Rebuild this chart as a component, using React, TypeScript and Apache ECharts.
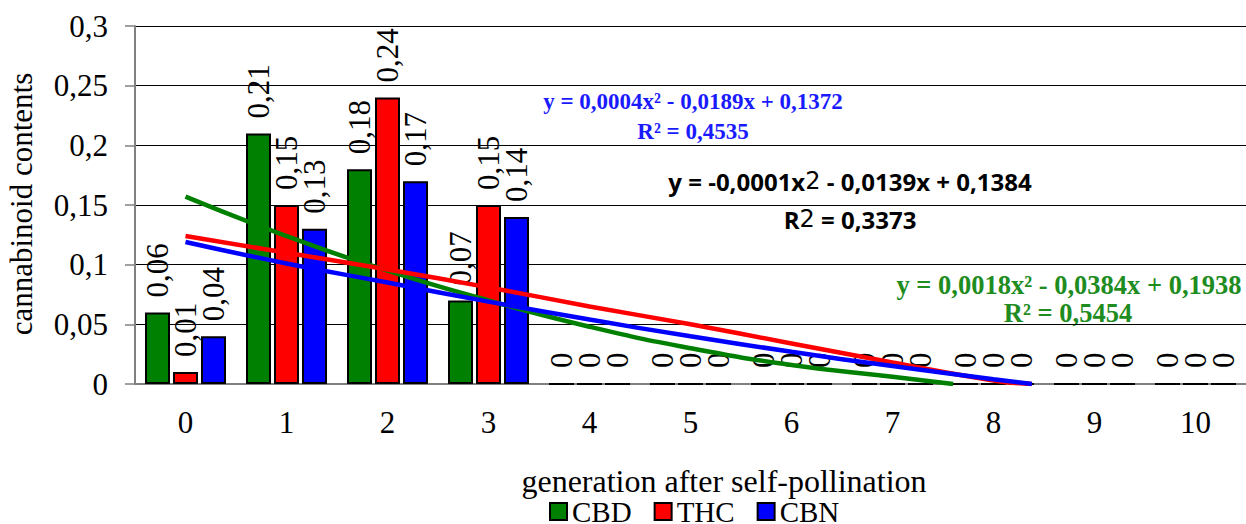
import React, { useEffect, useRef } from "react";
import * as echarts from "echarts";

const categories = ["0", "1", "2", "3", "4", "5", "6", "7", "8", "9", "10"];
const cbd = [0.06, 0.21, 0.18, 0.07, 0, 0, 0, 0, 0, 0, 0];
const thc = [0.01, 0.15, 0.24, 0.15, 0, 0, 0, 0, 0, 0, 0];
const cbn = [0.04, 0.13, 0.17, 0.14, 0, 0, 0, 0, 0, 0, 0];

// trend curves: [category position, value]
const cbdTrend = [[0, 0.157], [1, 0.124], [2, 0.095], [3, 0.07], [4, 0.048], [5, 0.03], [6, 0.016], [7, 0.006], [7.6, 0]];
const thcTrend = [[0, 0.124], [1, 0.11], [2, 0.096], [3, 0.081], [4, 0.065], [5, 0.05], [6, 0.034], [7, 0.018], [8, 0.003], [8.38, 0]];
const cbnTrend = [[0, 0.119], [1, 0.101], [2, 0.085], [3, 0.069], [4, 0.054], [5, 0.04], [6, 0.027], [7, 0.015], [8, 0.004], [8.38, 0]];

const yTicks = ["0", "0,05", "0,1", "0,15", "0,2", "0,25", "0,3"];

const GREEN = "#008000";
const RED = "#ff0000";
const BLUE = "#0000ff";
const SERIF = "'Liberation Serif', 'Times New Roman', serif";
const SANS = "'Open Sans', sans-serif";

export default function App() {
  const ref = useRef<HTMLDivElement>(null);
  useEffect(() => {
    document.body.style.margin = "0";
    const chart = echarts.init(ref.current!, null, { renderer: "svg" });
    const fmt = (p: any) => String(p.value).replace(".", ",");
    const barLabel = {
      show: true,
      position: "top",
      rotate: 90,
      align: "left",
      verticalAlign: "middle",
      distance: 15,
      fontFamily: SERIF,
      fontSize: 31,
      color: "#000",
      formatter: fmt,
    };
    const bar = (name: string, data: number[], color: string) => ({
      name,
      type: "bar",
      data,
      barWidth: 25,
      barGap: "12%",
      itemStyle: { color, borderColor: "#000", borderWidth: 2 },
      label: barLabel,
      z: 2,
    });
    const trend = (name: string, data: number[][], color: string) => ({
      name,
      type: "line",
      xAxisIndex: 1,
      data,
      smooth: true,
      symbol: "none",
      lineStyle: { color, width: 4.5 },
      z: 3,
    });
    chart.setOption({
      animation: false,
      grid: { left: 135, right: -7, top: 26, bottom: 140 },
      xAxis: [
        {
          type: "category",
          data: categories,
          axisLine: { lineStyle: { color: "#808080", width: 2 } },
          axisTick: { length: 10, lineStyle: { color: "#808080", width: 1.5 } },
          axisLabel: { fontFamily: SERIF, fontSize: 31, color: "#000", margin: 23 },
        },
        { type: "value", min: -0.5, max: 10.5, show: false },
      ],
      yAxis: {
        type: "value",
        min: 0,
        max: 0.3,
        interval: 0.05,
        axisLine: { show: true, onZero: false, lineStyle: { color: "#808080", width: 2 } },
        axisTick: { show: true, length: 10, lineStyle: { color: "#808080", width: 1.5 } },
        axisLabel: {
          fontFamily: SERIF,
          fontSize: 31,
          color: "#000",
          margin: 27,
          formatter: (v: number) => yTicks[Math.round(v / 0.05)],
        },
        splitLine: { lineStyle: { color: "#000", width: 1 } },
      },
      legend: {
        data: ["CBD", "THC", "CBN"],
        left: 549,
        top: 497,
        padding: 0,
        itemWidth: 17,
        itemHeight: 17,
        itemGap: 22,
        icon: "rect",
        textStyle: { fontFamily: SERIF, fontSize: 29, lineHeight: 26, color: "#000" },
      },
      series: [
        bar("CBD", cbd, GREEN),
        bar("THC", thc, RED),
        bar("CBN", cbn, BLUE),
        trend("CBD trend", cbdTrend, GREEN),
        trend("THC trend", thcTrend, RED),
        trend("CBN trend", cbnTrend, BLUE),
      ],
      graphic: [
        {
          type: "text",
          x: 21,
          y: 204,
          rotation: Math.PI / 2,
          style: { text: "cannabinoid contents", fontFamily: SERIF, fontSize: 31, fill: "#000", textAlign: "center", textVerticalAlign: "middle" },
        },
        {
          type: "text",
          x: 724,
          y: 481,
          style: { text: "generation after self-pollination", fontFamily: SERIF, fontSize: 32, fill: "#000", textAlign: "center", textVerticalAlign: "middle" },
        },
        {
          type: "text",
          x: 693,
          y: 101,
          style: { text: "y = 0,0004x² - 0,0189x + 0,1372", fontFamily: SERIF, fontWeight: "bold", fontSize: 23, fill: "#1a1aff", textAlign: "center", textVerticalAlign: "middle" },
        },
        {
          type: "text",
          x: 693,
          y: 131,
          style: { text: "R² = 0,4535", fontFamily: SERIF, fontWeight: "bold", fontSize: 23, fill: "#1a1aff", textAlign: "center", textVerticalAlign: "middle" },
        },
        {
          type: "text",
          x: 850,
          y: 181,
          style: {
            text: "{b|y = -0,0001x}{n|2}{b| - 0,0139x + 0,1384}",
            textAlign: "center",
            textVerticalAlign: "middle",
            rich: {
              b: { fontFamily: SANS, fontWeight: "bold", fontSize: 24, fill: "#000" },
              n: { fontFamily: "'DejaVu Sans', sans-serif", fontWeight: "normal", fontSize: 24, fill: "#000" },
            },
          },
        },
        {
          type: "text",
          x: 850,
          y: 219,
          style: {
            text: "{b|R}{n|2}{b| = 0,3373}",
            textAlign: "center",
            textVerticalAlign: "middle",
            rich: {
              b: { fontFamily: SANS, fontWeight: "bold", fontSize: 24, fill: "#000" },
              n: { fontFamily: "'DejaVu Sans', sans-serif", fontWeight: "normal", fontSize: 24, fill: "#000" },
            },
          },
        },
        {
          type: "text",
          x: 1069,
          y: 285,
          style: { text: "y = 0,0018x² - 0,0384x + 0,1938", fontFamily: SERIF, fontWeight: "bold", fontSize: 26.5, fill: "#1e8c1e", textAlign: "center", textVerticalAlign: "middle" },
        },
        {
          type: "text",
          x: 1068,
          y: 313,
          style: { text: "R² = 0,5454", fontFamily: SERIF, fontWeight: "bold", fontSize: 26.5, fill: "#1e8c1e", textAlign: "center", textVerticalAlign: "middle" },
        },
      ],
    });
    return () => chart.dispose();
  }, []);
  return <div ref={ref} style={{ width: 1246, height: 524 }} />;
}
